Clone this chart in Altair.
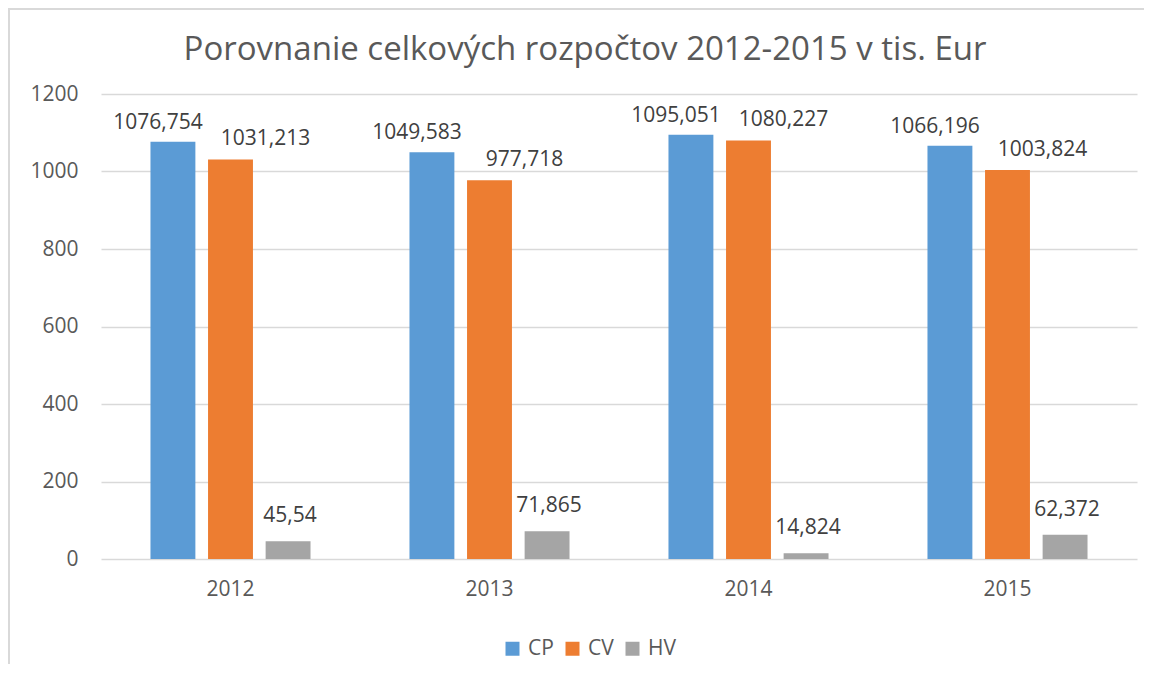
import altair as alt
import pandas as pd

years = ["2012", "2013", "2014", "2015"]
series = ["CP", "CV", "HV"]
cp = [1076.754, 1049.583, 1095.051, 1066.196]
cv = [1031.213, 977.718, 1080.227, 1003.824]
hv = [45.54, 71.865, 14.824, 62.372]
y_ticks = [0, 200, 400, 600, 800, 1000, 1200]
colors = ["#5B9BD5", "#ED7D31", "#A5A5A5"]
title_text = "Porovnanie celkových rozpočtov 2012-2015 v tis. Eur"

rows = []
for s, vals in zip(series, [cp, cv, hv]):
    for y, v in zip(years, vals):
        rows.append({"year": y, "series": s, "value": v, "label": str(v).replace(".", ",")})
df = pd.DataFrame(rows)

FONT = "Open Sans"

x_enc = alt.X(
    "year:N",
    sort=years,
    scale=alt.Scale(paddingInner=0.382, paddingOuter=0.191),
    axis=alt.Axis(title=None, labelAngle=0, domain=False, ticks=False, grid=False,
                  labelFontSize=21, labelColor="#595959", labelFont=FONT,
                  labelPadding=19),
)
y_enc = alt.Y(
    "value:Q",
    scale=alt.Scale(domain=[0, 1200], nice=False),
    axis=alt.Axis(values=y_ticks, format="d", title=None, domain=False, ticks=False,
                  gridColor="#D9D9D9", gridWidth=1.3, labelFontSize=21,
                  labelColor="#595959", labelFont=FONT, labelPadding=23),
)
xoff = alt.XOffset("series:N", sort=series,
                   scale=alt.Scale(paddingInner=0.22, paddingOuter=0))

base = alt.Chart(df)

bars = base.mark_bar().encode(
    x=x_enc,
    y=y_enc,
    xOffset=xoff,
    color=alt.Color(
        "series:N",
        scale=alt.Scale(domain=series, range=colors),
        legend=alt.Legend(
            title=None, orient="none", direction="horizontal",
            legendX=401, legendY=544, symbolType="square", symbolSize=196,
            symbolStrokeWidth=0, labelFontSize=21, labelColor="#595959",
            labelFont=FONT, columnPadding=8, labelOffset=5,
        ),
    ),
)

label_style = {"CP": (-15, -13), "CV": (35, -14), "HV": (2, -19)}
text_layers = []
for s in series:
    dx, dy = label_style[s]
    text_layers.append(
        base.transform_filter(alt.datum.series == s)
        .mark_text(fontSize=21, font=FONT, color="#404040", dx=dx, dy=dy,
                   baseline="alphabetic", align="center")
        .encode(x=x_enc, y=y_enc, xOffset=xoff, text="label:N")
    )

one_df = pd.DataFrame({"t": [title_text]})
title_layer = alt.Chart(one_df).mark_text(
    fontSize=33, font=FONT, color="#595959", baseline="alphabetic", align="center"
).encode(x=alt.value(484), y=alt.value(-34), text="t:N")

left_border = alt.Chart(one_df).mark_rule(color="#D9D9D9", strokeWidth=2).encode(
    x=alt.value(-92), y=alt.value(-85), y2=alt.value(580)
)
top_border = alt.Chart(one_df).mark_rule(color="#D9D9D9", strokeWidth=2).encode(
    x=alt.value(-93), x2=alt.value(1051), y=alt.value(-85)
)

chart = alt.layer(bars, *text_layers, title_layer, left_border, top_border).properties(
    width=1036,
    height=465,
    background="white",
    autosize=alt.AutoSizeParams(type="none"),
    padding={"left": 93, "top": 86, "right": 7, "bottom": 105},
).configure_view(strokeWidth=0, stroke="transparent")

chart.save("out.html", embed_options={"renderer": "svg", "actions": False})
